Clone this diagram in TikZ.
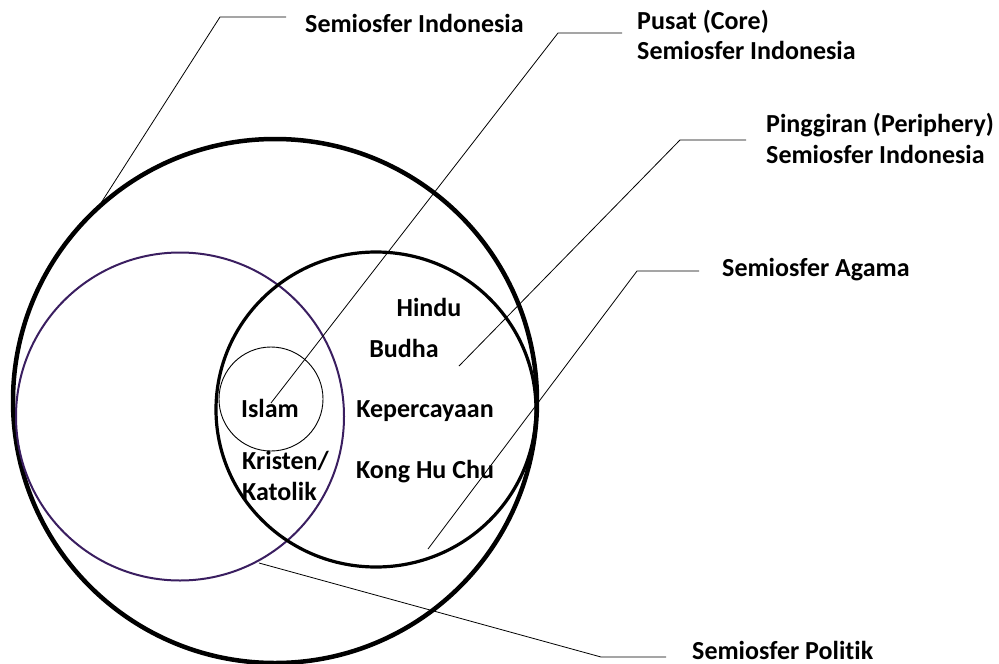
\documentclass[tikz,border=0pt]{standalone}
\usepackage{fontspec}
\setmainfont{Carlito}[Ligatures=CommonOff]
\definecolor{politik}{RGB}{58,30,96}
\begin{document}
\begin{tikzpicture}[x=1pt,y=-1pt,
  lbl/.style={font=\fontsize{26}{31}\selectfont\bfseries, inner sep=0pt},
  leader/.style={draw=black, line width=0.8pt},
  ring/.style={draw=black}]
\useasboundingbox (0,0) rectangle (999,664);
% circles
\draw[ring, line width=4.5pt] (275,401) circle[radius=262];
\draw[draw=politik, line width=2pt] (180,416.5) circle[radius=164];
\draw[ring, line width=3.2pt] (376,409.5) ellipse[x radius=160, y radius=157.5];
\draw[ring, line width=0.9pt] (271,399) circle[radius=52];
% inner labels
\node[lbl, anchor=base] (hindu) at (429,316) {Hindu};
\node[lbl, anchor=base] (budha) at (404,357) {Budha};
\node[lbl, anchor=base] (islam) at (270,417) {Islam};
\node[lbl, anchor=base] (keper) at (425,417) {Kepercayaan};
\node[lbl, anchor=base west] (kristen) at (242,469) {Kristen/};
\node[lbl, anchor=base west] (katolik) at (242,500) {Katolik};
\node[lbl, anchor=base] (kong) at (425,478) {Kong Hu Chu};
% outer labels
\node[lbl, anchor=base west] (sindo) at (305,32) {Semiosfer Indonesia};
\node[lbl, anchor=base west] (pusat1) at (637,29) {Pusat (Core)};
\node[lbl, anchor=base west] (pusat2) at (637,59) {Semiosfer Indonesia};
\node[lbl, anchor=base west] (ping1) at (766,132) {Pinggiran (Periphery)};
\node[lbl, anchor=base west] (ping2) at (766,163) {Semiosfer Indonesia};
\node[lbl, anchor=base west] (agama) at (722,276) {Semiosfer Agama};
\node[lbl, anchor=base west] (politik) at (692,659) {Semiosfer Politik};
% leader coordinates
\coordinate (a0) at (101,203);
\coordinate (a1) at (220,17);
\coordinate (a2) at (286,17);
\coordinate (b0) at (271,403);
\coordinate (b1) at (558,33);
\coordinate (b2) at (622,33);
\coordinate (c0) at (459,366);
\coordinate (c1) at (680,140);
\coordinate (c2) at (746,140);
\coordinate (d0) at (428,549);
\coordinate (d1) at (637,271);
\coordinate (d2) at (699,271);
\coordinate (e0) at (259,563);
\coordinate (e1) at (601,657);
\coordinate (e2) at (666,657);
\draw[leader] (a0) -- (a1) -- (a2);
\draw[leader] (b0) -- (b1) -- (b2);
\draw[leader] (c0) -- (c1) -- (c2);
\draw[leader] (d0) -- (d1) -- (d2);
\draw[leader] (e0) -- (e1) -- (e2);
\end{tikzpicture}
\end{document}
